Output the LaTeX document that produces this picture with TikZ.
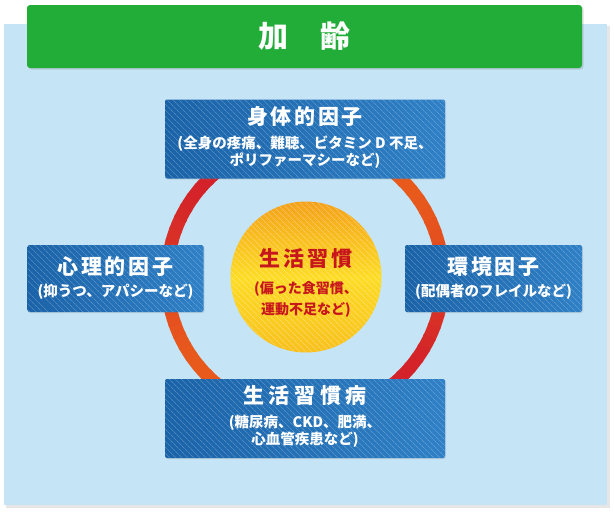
\documentclass[tikz,border=0pt]{standalone}
\usepackage{fontspec}
\usepackage{tikz}
\usetikzlibrary{shadows, patterns.meta, calc}
\newfontfamily\jpfont{Noto Sans CJK JP}
\newfontfamily\jpwide{Noto Sans CJK JP}[LetterSpace=13]
\newfontfamily\jpwider{Noto Sans CJK JP}[LetterSpace=22]
\newcommand{\notesize}{\fontsize{14.5}{17}\selectfont}
\newcommand{\headsize}{\jpwide\bfseries\fontsize{21}{23}\selectfont}
\newcommand{\tailpad}{\rule[-7pt]{0pt}{7pt}}
\definecolor{panelblue}{HTML}{C5E4F6}
\definecolor{panelgray}{HTML}{E6E6E6}
\definecolor{agegreen}{HTML}{22AC38}
\definecolor{boxdark}{HTML}{1B63A8}
\definecolor{boxlight}{HTML}{2F80C6}
\definecolor{ringred}{HTML}{D3222A}
\definecolor{ringorange}{HTML}{E85A1C}
\definecolor{goldtop}{HTML}{F4A21C}
\definecolor{goldmid}{HTML}{FDDC26}
\definecolor{goldlow}{HTML}{F8C01F}
\definecolor{lifered}{HTML}{C8161D}
\tikzset{
  factor/.style={rectangle, rounded corners=2pt, text=white, align=center,
    font=\jpfont\bfseries\notesize, left color=boxdark, right color=boxlight,
    drop shadow={opacity=0.2, shadow xshift=1pt, shadow yshift=-1pt},
    postaction={fill opacity=0.22, pattern={Lines[angle=-45, distance=4pt, line width=0.8pt]}, pattern color=white}},
  hub/.style={circle, minimum size=151pt, inner sep=0pt,
    top color=goldtop, bottom color=goldlow, middle color=goldmid,
    postaction={fill opacity=0.28, pattern={Lines[angle=-45, distance=4pt, line width=0.8pt]}, pattern color=white}},
  hubtext/.style={align=center, text=lifered, inner sep=0pt,
    font=\jpfont\bfseries\fontsize{14}{21.5}\selectfont},
  ringseg/.style={line width=13pt}
}

\begin{document}
\begin{tikzpicture}[x=1pt, y=-1pt]
\useasboundingbox (0,0) rectangle (614,514);
\coordinate (centre) at (305,278);

% panel
\fill[panelgray] (6,26) rectangle (610,508);
\fill[panelblue] (4,24) rectangle (607,505);

% header
\node[rectangle, rounded corners=3pt, minimum width=555pt, minimum height=63pt, fill=agegreen,
  drop shadow={opacity=0.25, shadow xshift=1.5pt, shadow yshift=-1.5pt},
  text=white, font=\jpfont\bfseries\fontsize{30}{32}\selectfont] (age) at (304.5,36.5) {加\hspace{32pt}齢};

% ring
\foreach \a in {0,5,...,355}{
  \pgfmathsetmacro{\mix}{50+50*cos(2*(\a-45))}
  \draw[ringseg, color=ringred!\mix!ringorange] ($(centre)+(\a:138)$) arc[start angle=\a, end angle=\a+6, radius=138];
}

% centre
\node[hub] (life) at (306,277) {};
\node[hubtext] (lifetext) at ($(life.center)+(0,6)$)
  {{\fontsize{21}{23}\selectfont\jpwide\bfseries 生活習慣}\\[5pt](偏った食習慣、\\運動不足など)};

% factors
\node[factor, minimum width=280pt, minimum height=79pt] (body) at (305,139)
  {{\headsize 身体的因子}\\[7pt](全身の疼痛、難聴、ビタミン D 不足、\\ポリファーマシーなど)\tailpad};
\node[factor, minimum width=176pt, minimum height=67pt] (mind) at (115.5,278.5)
  {{\headsize 心理的因子}\\[5pt](抑うつ、アパシーなど)};
\node[factor, minimum width=177pt, minimum height=67pt] (env) at (493.5,278.5)
  {{\headsize 環境因子}\\[5pt](配偶者のフレイルなど)};
\node[factor, minimum width=280pt, minimum height=79pt] (ill) at (305,418.5)
  {{\jpwider\bfseries\fontsize{21}{23}\selectfont 生活習慣病}\\[7pt](糖尿病、CKD、肥満、\\心血管疾患など)\tailpad};
\end{tikzpicture}
\end{document}
